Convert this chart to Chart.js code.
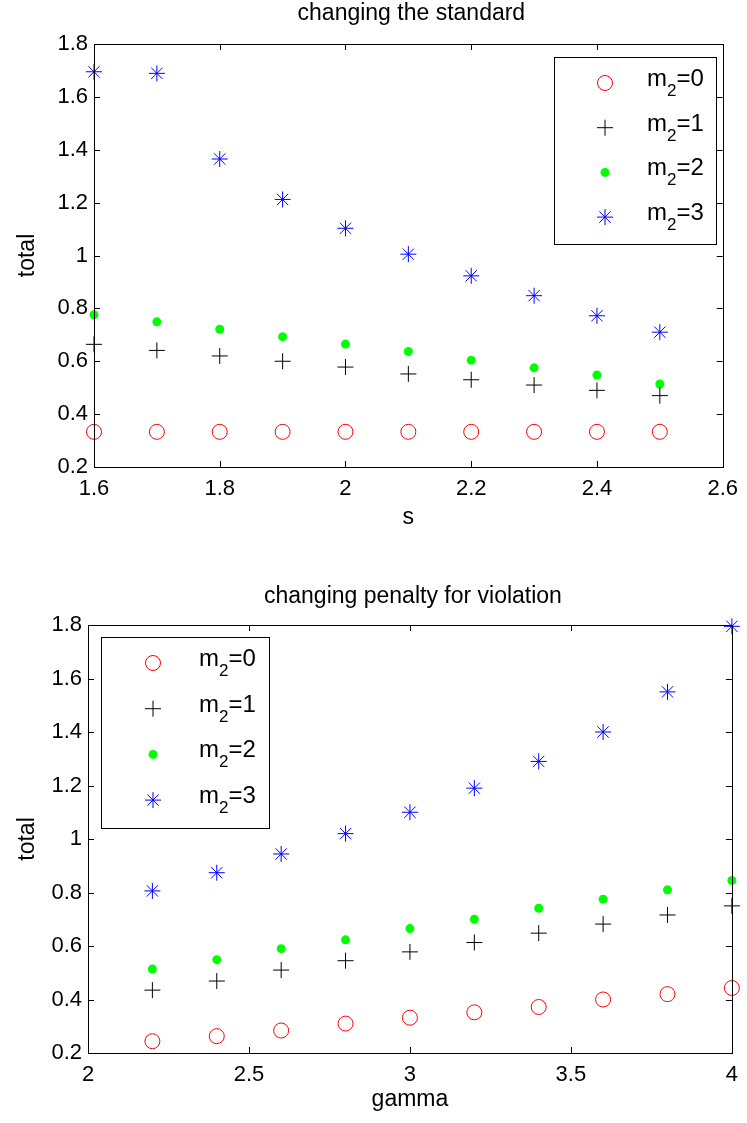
<!DOCTYPE html>
<html><head><meta charset="utf-8">
<script src="https://cdn.jsdelivr.net/npm/chart.js@4"></script>
<style>
body{margin:0;background:#fff;width:747px;height:1123px;overflow:hidden;position:relative}
canvas{position:absolute;left:0}
</style></head>
<body>
<canvas id="c1" width="747" height="560" style="top:0"></canvas>
<canvas id="c2" width="747" height="563" style="top:560px"></canvas>
<script>
// ---------- data: top chart (changing the standard) ----------
const sValues = [1.6, 1.7, 1.8, 1.9, 2.0, 2.1, 2.2, 2.3, 2.4, 2.5];
const std_m0 = [0.333, 0.333, 0.333, 0.333, 0.333, 0.333, 0.333, 0.333, 0.333, 0.333];
const std_m1 = [0.664, 0.641, 0.620, 0.600, 0.578, 0.552, 0.530, 0.510, 0.490, 0.470];
const std_m2 = [0.776, 0.749, 0.721, 0.693, 0.665, 0.637, 0.604, 0.575, 0.548, 0.514];
const std_m3 = [1.695, 1.689, 1.365, 1.212, 1.103, 1.005, 0.923, 0.848, 0.772, 0.710];
const stdXTicks = [1.6, 1.8, 2.0, 2.2, 2.4, 2.6];
const stdYTicks = [0.2, 0.4, 0.6, 0.8, 1.0, 1.2, 1.4, 1.6, 1.8];

// ---------- data: bottom chart (changing penalty for violation) ----------
const gammaValues = [2.2, 2.4, 2.6, 2.8, 3.0, 3.2, 3.4, 3.6, 3.8, 4.0];
const pen_m0 = [0.244, 0.263, 0.284, 0.310, 0.332, 0.352, 0.372, 0.400, 0.420, 0.443];
const pen_m1 = [0.435, 0.469, 0.510, 0.545, 0.578, 0.613, 0.648, 0.682, 0.716, 0.750];
const pen_m2 = [0.514, 0.549, 0.590, 0.623, 0.665, 0.700, 0.741, 0.775, 0.810, 0.845];
const pen_m3 = [0.806, 0.874, 0.944, 1.020, 1.100, 1.190, 1.290, 1.400, 1.550, 1.795];
const penXTicks = [2, 2.5, 3, 3.5, 4];
const penYTicks = [0.2, 0.4, 0.6, 0.8, 1.0, 1.2, 1.4, 1.6, 1.8];

const seriesLabels = ['0', '1', '2', '3'];

// ---------- styles ----------
const FONT = "'Liberation Sans', Arial, Helvetica, sans-serif";
const markerStyles = [
  {pointStyle: 'circle', pointRadius: 7.5, borderColor: '#ff0000', backgroundColor: 'rgba(0,0,0,0)', borderWidth: 1},
  {pointStyle: 'cross',  pointRadius: 8,   borderColor: '#000000', backgroundColor: '#000000', borderWidth: 1},
  {pointStyle: 'circle', pointRadius: 4.5, borderColor: '#00ff00', backgroundColor: '#00ff00', borderWidth: 0},
  {pointStyle: 'star',   pointRadius: 8,   borderColor: '#0000ff', backgroundColor: '#0000ff', borderWidth: 1}
];

function fmt(v) { return String(Math.round(v * 100) / 100); }

function makeChart(id, cfg) {
  const datasets = cfg.series.map((ys, i) => Object.assign({
    label: 'm2=' + seriesLabels[i],
    data: cfg.xs.map((x, k) => ({x: x, y: ys[k]})),
    showLine: false,
    clip: false
  }, markerStyles[i], {pointHoverRadius: markerStyles[i].pointRadius}));

  const boxPlugin = {
    id: 'matlabAxes',
    afterDraw(chart) {
      const ctx = chart.ctx, a = chart.chartArea;
      const xs = chart.scales.x, ys = chart.scales.y;
      ctx.save();
      ctx.strokeStyle = '#000';
      ctx.lineWidth = 1;
      // box
      ctx.strokeRect(Math.round(a.left) + 0.5, Math.round(a.top) + 0.5,
                     Math.round(a.right - a.left), Math.round(a.bottom - a.top));
      // inward ticks
      const TL = 6;
      ctx.beginPath();
      xs.ticks.forEach(t => {
        const px = Math.round(xs.getPixelForValue(t.value)) + 0.5;
        ctx.moveTo(px, a.bottom); ctx.lineTo(px, a.bottom - TL);
        ctx.moveTo(px, a.top); ctx.lineTo(px, a.top + TL);
      });
      ys.ticks.forEach(t => {
        const py = Math.round(ys.getPixelForValue(t.value)) + 0.5;
        ctx.moveTo(a.left, py); ctx.lineTo(a.left + TL, py);
        ctx.moveTo(a.right, py); ctx.lineTo(a.right - TL, py);
      });
      ctx.stroke();

      // titles
      ctx.fillStyle = '#000';
      ctx.textAlign = 'center';
      ctx.textBaseline = 'middle';
      ctx.font = '23px ' + FONT;
      const cx = (a.left + a.right) / 2;
      ctx.fillText(cfg.title, cx + 3, a.top - cfg.titleGap);
      ctx.fillText(cfg.xTitle, cx, a.bottom + cfg.xTitleGap);
      ctx.save();
      ctx.translate(28, (a.top + a.bottom) / 2);
      ctx.rotate(-Math.PI / 2);
      ctx.fillText('total', 0, 0);
      ctx.restore();

      // legend
      const L = cfg.legend;
      ctx.fillStyle = '#fff';
      ctx.fillRect(L.x, L.y, L.w, L.h);
      ctx.strokeRect(L.x + 0.5, L.y + 0.5, L.w, L.h);
      chart.data.datasets.forEach((ds, i) => {
        const y = L.y + L.first + i * L.step;
        ctx.save();
        ctx.strokeStyle = ds.borderColor;
        ctx.fillStyle = ds.backgroundColor;
        ctx.lineWidth = ds.borderWidth || 1;
        Chart.helpers.drawPoint(ctx, {pointStyle: ds.pointStyle, rotation: 0, radius: ds.pointRadius, borderWidth: ds.borderWidth}, L.x + L.mx, y);
        ctx.restore();
        ctx.fillStyle = '#000';
        ctx.textAlign = 'left';
        ctx.textBaseline = 'alphabetic';
        let tx = L.x + L.tx;
        ctx.font = '24px ' + FONT;
        ctx.fillText('m', tx, y + 3);
        tx += ctx.measureText('m').width;
        ctx.font = '17px ' + FONT;
        ctx.fillText('2', tx, y + 13);
        tx += ctx.measureText('2').width;
        ctx.font = '24px ' + FONT;
        ctx.fillText('=' + seriesLabels[i], tx, y + 3);
      });
      ctx.restore();
    }
  };

  return new Chart(document.getElementById(id), {
    type: 'scatter',
    data: {datasets},
    options: {
      responsive: false,
      animation: false,
      devicePixelRatio: 1,
      layout: {padding: cfg.padding},
      plugins: {legend: {display: false}, tooltip: {enabled: false}, title: {display: false}},
      scales: {
        x: {
          type: 'linear', min: cfg.xTicks[0], max: cfg.xTicks[cfg.xTicks.length - 1],
          grid: {display: false, drawTicks: false},
          border: {display: false},
          afterBuildTicks: s => { s.ticks = cfg.xTicks.map(v => ({value: v})); },
          afterFit: s => { s.height = cfg.xAxisH; },
          ticks: {color: '#000', font: {family: FONT, size: 22}, padding: 9, maxRotation: 0, autoSkip: false, callback: v => fmt(v)}
        },
        y: {
          type: 'linear', min: cfg.yTicks[0], max: cfg.yTicks[cfg.yTicks.length - 1],
          grid: {display: false, drawTicks: false},
          border: {display: false},
          afterBuildTicks: s => { s.ticks = cfg.yTicks.map(v => ({value: v})); },
          afterFit: s => { s.width = cfg.yAxisW; },
          ticks: {color: '#000', font: {family: FONT, size: 22}, padding: 6, autoSkip: false, callback: v => fmt(v)}
        }
      }
    },
    plugins: [boxPlugin]
  });
}

makeChart('c1', {
  xs: sValues, series: [std_m0, std_m1, std_m2, std_m3],
  xTicks: stdXTicks, yTicks: stdYTicks,
  title: 'changing the standard', xTitle: 's', titleGap: 30, xTitleGap: 51,
  padding: {left: 0, top: 44, right: 20, bottom: 0},
  yAxisW: 94, xAxisH: 93,
  legend: {x: 554, y: 57, w: 162, h: 187, mx: 51, tx: 93, first: 26, step: 44.7}
});

makeChart('c2', {
  xs: gammaValues, series: [pen_m0, pen_m1, pen_m2, pen_m3],
  xTicks: penXTicks, yTicks: penYTicks,
  title: 'changing penalty for violation', xTitle: 'gamma', titleGap: 28, xTitleGap: 47,
  padding: {left: 0, top: 65, right: 14, bottom: 0},
  yAxisW: 88, xAxisH: 70,
  legend: {x: 101, y: 77, w: 168, h: 191, mx: 52, tx: 98, first: 26, step: 45.7}
});
</script>
</body></html>
